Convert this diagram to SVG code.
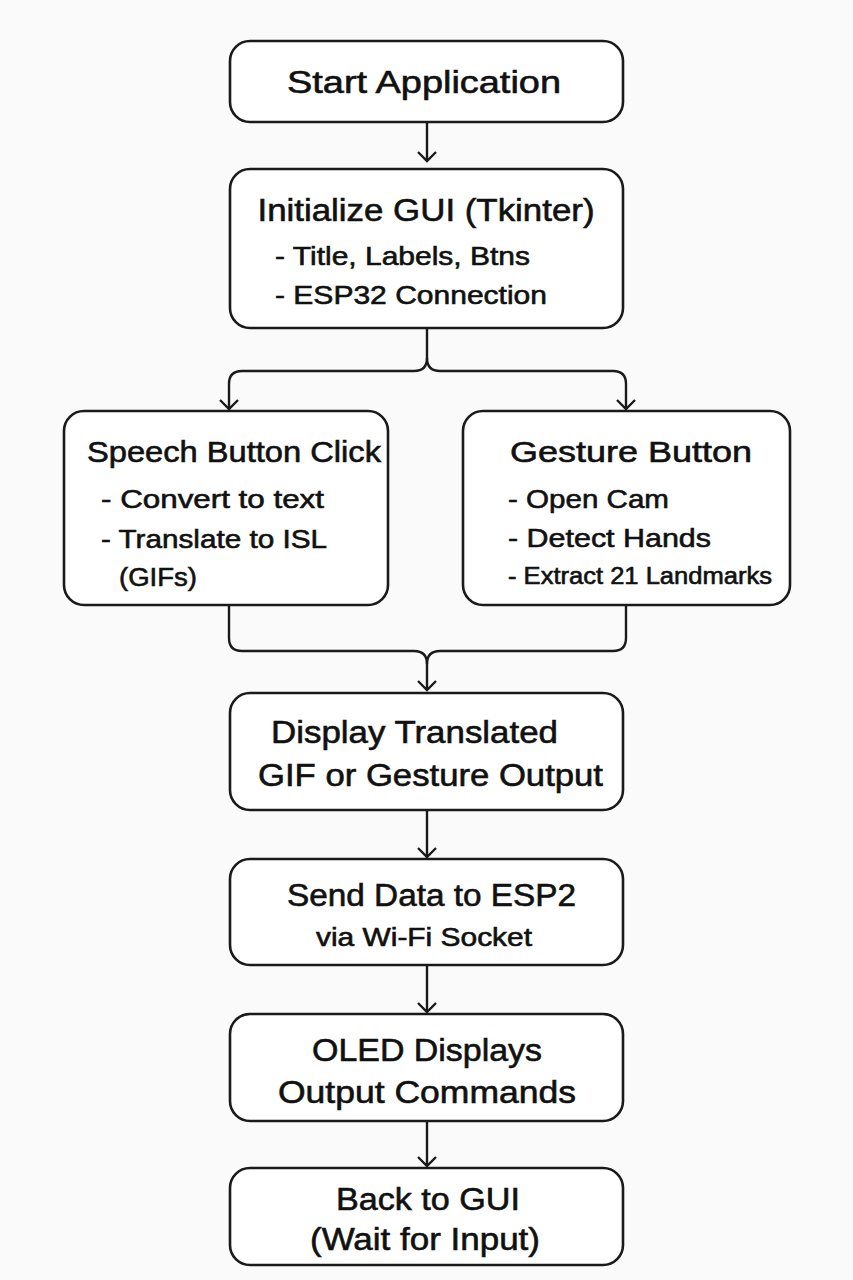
<svg xmlns="http://www.w3.org/2000/svg" width="853" height="1280" viewBox="0 0 853 1280">
<defs>
<marker id="arr" viewBox="0 0 20 20" refX="18" refY="10" markerWidth="20" markerHeight="20" markerUnits="userSpaceOnUse" orient="auto">
<polyline points="9,1 18,10 9,19" fill="none" stroke="#1a1a1a" stroke-width="2.4"/>
</marker>
</defs>
<style>
.box{fill:#ffffff;stroke:#1a1a1a;stroke-width:2.6}
.t{font-family:"Liberation Sans",Arial,sans-serif;fill:#111;stroke:#111;stroke-width:0.6}
.h{font-size:31px;text-anchor:middle}
.s{font-size:26px}
.c{stroke:#1a1a1a;stroke-width:2.4;fill:none}
</style>
<rect width="853" height="1280" fill="#fafafa"/>
<g id="connectors">
<path class="c" d="M427 122 V161" marker-end="url(#arr)"/>
<path class="c" d="M427 328 V358 Q427 371 414 371 H242 Q229 371 229 384 V409" marker-end="url(#arr)"/>
<path class="c" d="M427 358 Q427 371 440 371 H613 Q626 371 626 384 V409" marker-end="url(#arr)"/>
<path class="c" d="M229 605 V638 Q229 651 242 651 H414 Q427 651 427 664 V690" marker-end="url(#arr)"/>
<path class="c" d="M626 605 V638 Q626 651 613 651 H440 Q427 651 427 664"/>
<path class="c" d="M427 810 V857" marker-end="url(#arr)"/>
<path class="c" d="M427 965 V1012" marker-end="url(#arr)"/>
<path class="c" d="M427 1121 V1166" marker-end="url(#arr)"/>
</g>
<g id="start">
<rect class="box" x="230" y="41" width="393" height="81" rx="20"/>
<text class="t h" x="424" y="93" font-size="32" textLength="274" lengthAdjust="spacingAndGlyphs">Start Application</text>
</g>
<g id="init">
<rect class="box" x="230" y="169" width="393" height="159" rx="20"/>
<text class="t h" x="426" y="221" textLength="337" lengthAdjust="spacingAndGlyphs">Initialize GUI (Tkinter)</text>
<text class="t s" x="275" y="265" textLength="255" lengthAdjust="spacingAndGlyphs">- Title, Labels, Btns</text>
<text class="t s" x="275" y="304" textLength="272" lengthAdjust="spacingAndGlyphs">- ESP32 Connection</text>
</g>
<g id="speech">
<rect class="box" x="64" y="411" width="324" height="194" rx="20"/>
<text class="t" x="87" y="462" font-size="29" textLength="294" lengthAdjust="spacingAndGlyphs">Speech Button Click</text>
<text class="t s" x="101" y="508" textLength="223" lengthAdjust="spacingAndGlyphs">- Convert to text</text>
<text class="t s" x="101" y="548" textLength="226" lengthAdjust="spacingAndGlyphs">- Translate to ISL</text>
<text class="t s" x="119" y="586" textLength="78" lengthAdjust="spacingAndGlyphs">(GIFs)</text>
</g>
<g id="gesture">
<rect class="box" x="463" y="411" width="327" height="194" rx="20"/>
<text class="t" x="510" y="462" font-size="30" textLength="242" lengthAdjust="spacingAndGlyphs">Gesture Button</text>
<text class="t s" x="508" y="508" textLength="161" lengthAdjust="spacingAndGlyphs">- Open Cam</text>
<text class="t s" x="508" y="547" textLength="203" lengthAdjust="spacingAndGlyphs">- Detect Hands</text>
<text class="t" x="508" y="584" font-size="23" textLength="264" lengthAdjust="spacingAndGlyphs">- Extract 21 Landmarks</text>
</g>
<g id="display">
<rect class="box" x="230" y="693" width="393" height="117" rx="20"/>
<text class="t" x="271" y="743" font-size="31" textLength="287" lengthAdjust="spacingAndGlyphs">Display Translated</text>
<text class="t" x="258" y="786" font-size="31" textLength="345" lengthAdjust="spacingAndGlyphs">GIF or Gesture Output</text>
</g>
<g id="send">
<rect class="box" x="230" y="859" width="393" height="106" rx="20"/>
<text class="t" x="287" y="906" font-size="31" textLength="289" lengthAdjust="spacingAndGlyphs">Send Data to ESP2</text>
<text class="t" x="316" y="946" font-size="25" textLength="216" lengthAdjust="spacingAndGlyphs">via Wi-Fi Socket</text>
</g>
<g id="oled">
<rect class="box" x="230" y="1014" width="393" height="107" rx="20"/>
<text class="t" x="312" y="1061" font-size="31" textLength="230" lengthAdjust="spacingAndGlyphs">OLED Displays</text>
<text class="t" x="278" y="1103" font-size="31" textLength="298" lengthAdjust="spacingAndGlyphs">Output Commands</text>
</g>
<g id="back">
<rect class="box" x="230" y="1168" width="393" height="97" rx="20"/>
<text class="t" x="336" y="1210" font-size="31" textLength="184" lengthAdjust="spacingAndGlyphs">Back to GUI</text>
<text class="t" x="310" y="1250" font-size="31" textLength="230" lengthAdjust="spacingAndGlyphs">(Wait for Input)</text>
</g>
</svg>
